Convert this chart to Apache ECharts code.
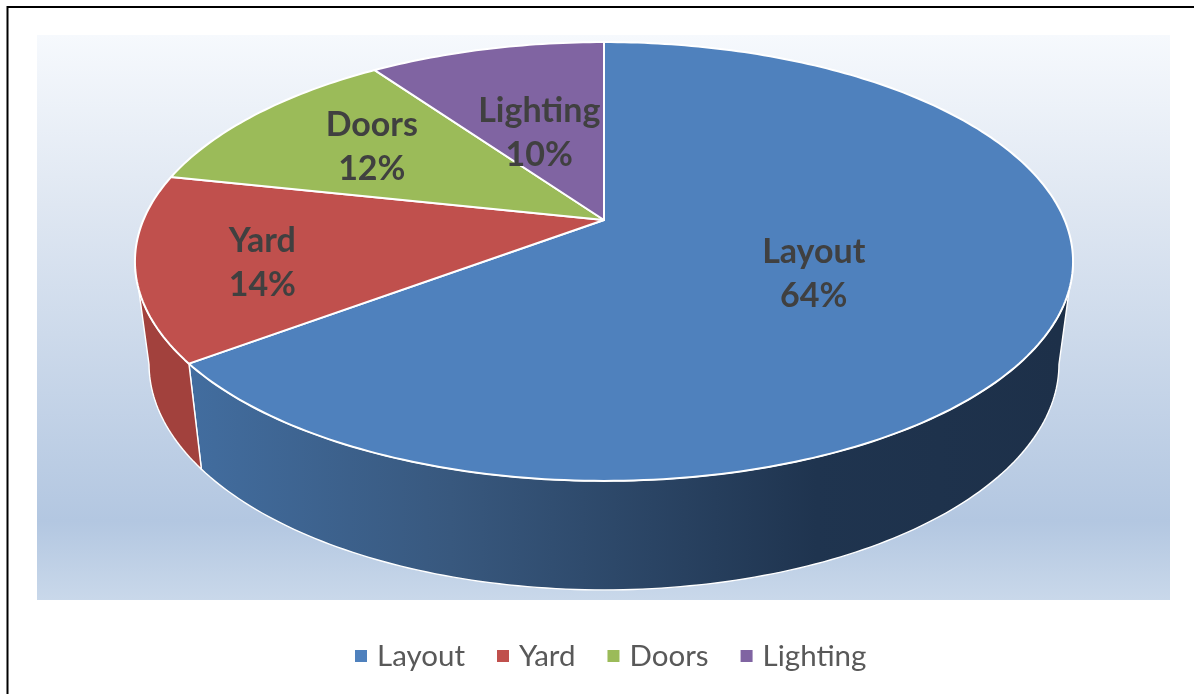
<!DOCTYPE html>
<html>
<head>
<meta charset="utf-8">
<style>html,body{margin:0;padding:0;background:#fff}#c{width:1194px;height:694px}</style>
<script src="https://cdn.jsdelivr.net/npm/echarts@6/dist/echarts.min.js"></script>
</head>
<body>
<div id="c"></div>
<script>
// Data (shares; slice angles are share / total)
var categories = ['Layout', 'Yard', 'Doors', 'Lighting'];
var shares = [64.4, 13.6, 11.8, 9.7];
var colors = ['#4f81bd', '#c0504d', '#9bbb59', '#8064a2'];

// Perspective pie geometry
var CX = 604, APEX_Y = 220, PROJ_A = 170, PROJ_C = -0.189, HALF_W = 460.6;
var DROP = 109, LOWER_SCALE = 0.97;
var WALL_FROM = 101, WALL_TO = 259;      // visible part of the side wall, degrees clockwise from top
var labelRadius = [0.495, 0.74, 0.66, 0.48];
var labelTurn = [2, -2.5, 1.5, -1];

function top3d(deg, r) {
  var t = deg * Math.PI / 180, u = r * Math.sin(t), v = -r * Math.cos(t);
  var d = 1 + PROJ_C * v;
  return [CX + HALF_W * u / d, (PROJ_A * v + APEX_Y) / d];
}
function low3d(deg) {
  var p = top3d(deg, 1);
  return [CX + (p[0] - CX) * LOWER_SCALE, p[1] + DROP - (481 - p[1]) * 0.03];
}
var wallFill = [
  {type:'linear', x:190, y:0, x2:1060, y2:0, global:true, colorStops:[
    {offset:0, color:'#426d9f'}, {offset:0.3, color:'#38587e'},
    {offset:0.72, color:'#1f344f'}, {offset:1, color:'#1d3049'}]},
  '#a2413d', '#7a8f45', '#604b7a'
];

function renderSlice(params, api) {
  var from = api.value(0) * 3.6, to = api.value(1) * 3.6, share = api.value(2);
  var idx = params.seriesIndex, children = [], a;
  var wf = Math.max(from, WALL_FROM), wt = Math.min(to, WALL_TO);
  if (wt > wf) {
    var wall = [];
    for (a = wf; a < wt; a += 1) wall.push(top3d(a, 1));
    wall.push(top3d(wt, 1));
    wall.push(low3d(wt));
    for (a = wt - 1; a > wf; a -= 1) wall.push(low3d(a));
    wall.push(low3d(wf));
    children.push({type:'polygon', shape:{points:wall},
      style:{fill:wallFill[idx], stroke:'#ffffff', lineWidth:1.4, lineJoin:'round'}});
  }
  var pts = [top3d(0, 0)];
  for (a = from; a < to; a += 1) pts.push(top3d(a, 1));
  pts.push(top3d(to, 1));
  children.push({type:'polygon', shape:{points:pts},
    style:{fill:colors[idx], stroke:'#ffffff', lineWidth:2, lineJoin:'round'}});
  var lp = top3d((from + to) / 2 + labelTurn[idx], labelRadius[idx]);
  children.push({type:'text', z2:50, x:lp[0], y:lp[1] + 1.5, style:{
    text: categories[idx] + '\n' + Math.round(share) + '%',
    fill:'#404040', font:'bold 34px Lato', lineHeight:44, align:'center', verticalAlign:'middle'}});
  return {type:'group', children:children};
}

var total = shares.reduce(function (s, v) { return s + v; }, 0);
var cum = 0;
var series = categories.map(function (name, i) {
  var row = [cum / total * 100, (cum + shares[i]) / total * 100, shares[i]];
  cum += shares[i];
  return {type:'custom', name:name, coordinateSystem:'none', renderItem:renderSlice,
    itemStyle:{color:colors[i]}, data:[row], silent:true, animation:false,
    dimensions:['from','to','share'], encode:{}};
});

var chart = echarts.init(document.getElementById('c'), null, {renderer:'canvas'});
chart.setOption({
  animation:false,
  backgroundColor:'#ffffff',
  graphic:[
    {type:'rect', z:-10, shape:{x:37, y:35, width:1133, height:565}, style:{
      fill:{type:'linear', x:0, y:0, x2:0, y2:1, colorStops:[
        {offset:0, color:'#f6f9fd'}, {offset:0.3, color:'#dfe7f2'},
        {offset:0.86, color:'#b3c7e1'}, {offset:1, color:'#c9d8ea'}]}}},
    {type:'polyline', z:-5, shape:{points:[[7.5,694],[7.5,7],[1194,7]]}, style:{fill:null, stroke:'#000000', lineWidth:2}}
  ],
  legend:{
    data:categories, left:350, top:636, orient:'horizontal', icon:'rect',
    itemWidth:12, itemHeight:12, itemGap:32, selectedMode:false,
    textStyle:{fontFamily:'Lato', fontSize:29.5, color:'#595959', padding:[0,0,0,5]}
  },
  series:series
});
</script>
</body>
</html>
